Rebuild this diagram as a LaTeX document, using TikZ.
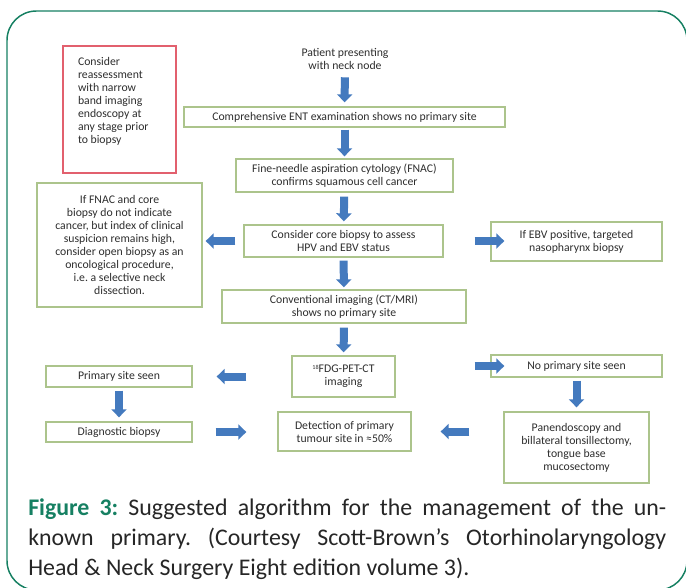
\documentclass[tikz,border=0pt]{standalone}
\usepackage{fontspec}
\setmainfont{Carlito}
\usetikzlibrary{arrows.meta}
\frenchspacing

\definecolor{framegreen}{RGB}{22,128,98}
\definecolor{boxgreen}{RGB}{172,196,140}
\definecolor{boxred}{RGB}{226,96,110}
\definecolor{arrowblue}{RGB}{68,122,190}
\definecolor{textgrey}{RGB}{45,45,45}

\tikzset{
  stepbox/.style={draw=boxgreen, line width=1pt, align=center, inner sep=0pt,
    text=textgrey, font=\fontsize{8.8}{9.75}\selectfont},
  redbox/.style={stepbox, draw=boxred, align=left, inner xsep=11.25pt, inner ysep=8.25pt},
  plaintext/.style={stepbox, draw=none},
  bigarrow/.style={draw=arrowblue, line width=6pt, -{Triangle[length=6pt,width=11.25pt]}},
  caption/.style={anchor=north west, inner sep=0pt, text width=478.5pt, align=justify,
    text=black!85, font=\fontsize{17.9}{22.5}\selectfont}
}

\begin{document}
\begin{tikzpicture}[x=0.75pt,y=-0.75pt]
        \useasboundingbox (0,0) rectangle (686,587);
        % Outer frame
        \draw[framegreen, line width=1.1pt, rounded corners=22pt] (7,11) rectangle (687,590);

        % Main column
        \node[plaintext] (patient) at (345,59) {Patient presenting\\ with neck node};
        \node[stepbox, minimum width=240.75pt, minimum height=15pt] (ent) at (344.5,117)
            {Comprehensive ENT examination shows no primary site};
        \node[stepbox, minimum width=162.75pt, minimum height=24.75pt] (fnac) at (344.5,175.5)
            {Fine-needle aspiration cytology (FNAC)\\ confirms squamous cell cancer};
        \node[stepbox, minimum width=149.25pt, minimum height=24pt] (core) at (343.5,241)
            {Consider core biopsy to assess\\ HPV and EBV status};
        \node[stepbox, minimum width=183pt, minimum height=24.75pt] (conv) at (344,306.5)
            {Conventional imaging (CT/MRI)\\ shows no primary site};
        \node[stepbox, minimum width=77.25pt, minimum height=30.75pt] (fdg) at (343.5,376.5)
            {\raisebox{2.6pt}{\fontsize{4.6}{5}\selectfont 18}FDG-PET-CT\\ imaging};
        \node[stepbox, minimum width=99.75pt, minimum height=29.25pt] (det) at (344.5,431.5)
            {Detection of primary\\ tumour site in ≈50\%};

        % Left side
        \node[redbox] (reassess) at (119.5,109.5)
            {\parbox[c][78.75pt][t]{62.25pt}{\raggedright Consider\\ reassessment\\ with narrow\\
             band imaging\\ endoscopy at\\ any stage prior\\ to biopsy}};
        \node[stepbox, minimum width=123.75pt, minimum height=93pt] (openbiopsy) at (119.5,245)
            {If FNAC and core\\ biopsy do not indicate\\ cancer, but index of clinical\\
             suspicion remains high,\\ consider open biopsy as an\\ oncological procedure,\\
             i.e. a selective neck\\ dissection.};
        \node[stepbox, minimum width=109.5pt, minimum height=15.75pt] (seen) at (119,376.5)
            {Primary site seen};
        \node[stepbox, minimum width=109.5pt, minimum height=15pt] (diag) at (119,432)
            {Diagnostic biopsy};

        % Right side
        \node[stepbox, minimum width=128.25pt, minimum height=29.25pt] (ebv) at (576.5,241.5)
            {If EBV positive, targeted\\ nasopharynx biopsy};
        \node[stepbox, minimum width=128.25pt, minimum height=16.5pt] (notseen) at (576.5,366)
            {No primary site seen};
        \node[stepbox, minimum width=108.75pt, minimum height=53.25pt] (pan) at (576.5,447.5)
            {Panendoscopy and\\ billateral tonsillectomy,\\ tongue base\\ mucosectomy};

        % Arrows
        \draw[bigarrow, shorten <=5.25pt, shorten >=3pt] (patient) -- (ent);
        \draw[bigarrow, shorten <=1.5pt, shorten >=1.5pt] (ent) -- (fnac);
        \draw[bigarrow, shorten <=3pt, shorten >=2.25pt] (fnac) -- (core);
        \draw[bigarrow, shorten <=2.25pt, shorten >=1.5pt] (core) -- (conv);
        \draw[bigarrow, shorten <=3pt, shorten >=2.25pt] (conv) -- (fdg);
        \draw[bigarrow, shorten <=6pt, shorten >=2.25pt] (core.west) -- (core.west -| openbiopsy.east);
        \draw[bigarrow, shorten <=23.25pt, shorten >=-10.5pt] (core.east) -- (core.east -| ebv.west);
        \draw[bigarrow, shorten <=33.75pt, shorten >=18pt] (fdg.west) -- (seen.east);
        \draw[bigarrow, shorten <=59.25pt, shorten >=-10.5pt] (fdg.east |- notseen.west) -- (notseen.west);
        \draw[bigarrow, shorten <=2.25pt, shorten >=3pt] (notseen) -- (pan);
        \draw[bigarrow, shorten <=25.5pt, shorten >=21.75pt] (pan.west |- det.east) -- (det.east);
        \draw[bigarrow, shorten <=17.25pt, shorten >=23.25pt] (diag.east) -- (diag.east -| det.west);
        \draw[bigarrow, shorten <=2.25pt, shorten >=3pt] (seen) -- (diag);

        % Caption
        \node[caption] (figcaption) at (28,498.5)
            {{\color{framegreen}\bfseries Figure 3:} Suggested algorithm for the management of the un-\linebreak
             known primary. (Courtesy Scott-Brown's Otorhinolaryngology\linebreak
             Head \& Neck Surgery Eight edition volume 3).};
\end{tikzpicture}
\end{document}
